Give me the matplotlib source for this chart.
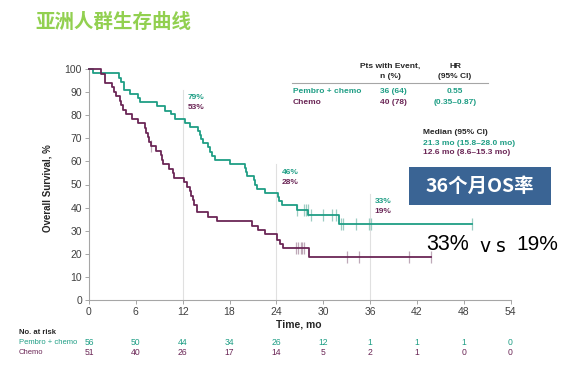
import matplotlib
matplotlib.use("Agg")
import matplotlib.pyplot as plt
import numpy as np

plt.rcParams['font.family'] = ['Liberation Sans', 'Noto Sans CJK SC', 'DejaVu Sans']

# ---------------- data ----------------
title = "亚洲人群生存曲线"
box_text = "36个月OS率"

# Kaplan-Meier step curves (time in months, survival %)
pembro_t = [0, 0.5, 3.8, 4.1, 4.5, 5.3, 6.3, 6.5, 8.7, 9.7, 10.5, 11.0, 12.3, 12.9, 14.0, 14.2,
            14.4, 14.6, 15.3, 15.5, 15.8, 16.2, 18.1, 20.0, 20.1, 20.2, 21.1, 21.3, 21.5, 22.6,
            24.2, 24.4, 24.7, 26.6, 28.1, 32.0, 49.1]
pembro_s = [100, 98.2, 96.4, 94.6, 91.1, 89.3, 87.5, 85.7, 83.9, 82.1, 80.4, 78.6, 76.8, 75.0, 73.2, 71.4,
            69.6, 67.9, 66.1, 64.3, 62.5, 60.7, 58.9, 57.1, 55.4, 53.6, 51.8, 50.0, 48.2, 46.4,
            44.6, 42.9, 41.1, 39.0, 36.6, 32.9, 32.9]

chemo_t = [0, 1.6, 2.05, 2.1, 3.0, 3.2, 3.5, 4.0, 4.1, 4.3, 4.8, 5.5, 6.3, 7.2, 7.35, 7.5, 7.7,
           8.0, 8.6, 9.2, 9.4, 9.5, 10.2, 10.7, 10.9, 12.2, 12.6, 12.9, 13.1, 13.3, 13.5, 13.8,
           15.2, 16.4, 20.9, 21.7, 22.6, 24.1, 24.5, 24.8, 28.2, 43.8]
chemo_s = [100, 98.0, 96.1, 94.1, 92.2, 90.2, 88.2, 86.3, 84.3, 82.4, 80.4, 78.4, 76.5, 74.5, 72.5, 70.6, 68.6,
           66.7, 64.7, 62.7, 60.8, 58.8, 56.9, 54.9, 52.9, 51.0, 49.0, 47.1, 45.1, 43.1, 41.2, 38.2,
           36.1, 34.0, 32.0, 30.2, 28.3, 26.0, 24.3, 22.3, 18.6, 18.6]

pembro_censor = [26.7, 27.6, 27.8, 28.0, 28.5, 30.0, 31.1, 31.7, 32.3, 32.6, 34.2, 35.9, 36.1, 49.1]
chemo_censor = [8.0, 26.5, 26.8, 27.1, 27.3, 27.6, 33.0, 34.6, 41.0, 43.8]

risk_times = [0, 6, 12, 18, 24, 30, 36, 42, 48, 54]
risk_pembro = [56, 50, 44, 34, 26, 12, 1, 1, 1, 0]
risk_chemo = [51, 40, 26, 17, 14, 5, 2, 1, 0, 0]

landmarks = [12, 24, 36]
landmark_pembro = ["79%", "46%", "33%"]
landmark_chemo = ["53%", "28%", "19%"]

GREEN = "#1f9e85"
PURPLE = "#6b2656"
GREEN_C = "#9ccdc2"
PURPLE_C = "#bfa9b8"
TXT = "#262626"

W, H = 577, 365
fig = plt.figure(figsize=(W / 100, H / 100), dpi=100)

def fx(px):
    return px / W

def fy(py):
    return 1 - py / H

ax = fig.add_axes([fx(89), fy(299.7), 421.5 / W, 230.4 / H])
ax.set_xlim(0, 54)
ax.set_ylim(0, 100)

# landmark reference lines
for lm, top in zip(landmarks, [91, 59, 46]):
    ax.plot([lm, lm], [0, top], color="#e0e0e0", lw=0.8, zorder=1)

ax.step(pembro_t, pembro_s, where="post", color=GREEN, lw=1.3, zorder=3, clip_on=False)
ax.step(chemo_t, chemo_s, where="post", color=PURPLE, lw=1.3, zorder=3, clip_on=False)

def level(ts, ss, t):
    idx = np.searchsorted(ts, t, side="right") - 1
    return ss[idx]

ax.plot(pembro_censor, [level(pembro_t, pembro_s, t) for t in pembro_censor], ls="none",
        marker="|", ms=8, mew=0.9, color=GREEN_C, zorder=2)
ax.plot(chemo_censor, [level(chemo_t, chemo_s, t) for t in chemo_censor], ls="none",
        marker="|", ms=8, mew=0.9, color=PURPLE_C, zorder=2)

# landmark labels
lab_pos = [(12.64, 87.7, 83.3), (24.7, 55.3, 51.0), (36.6, 42.8, 38.2)]
for (x, yg, yp), g, p in zip(lab_pos, landmark_pembro, landmark_chemo):
    ax.text(x, yg, g, color=GREEN, fontsize=6, fontweight="bold", ha="left", va="center")
    ax.text(x, yp, p, color=PURPLE, fontsize=6, fontweight="bold", ha="left", va="center")

# axes styling
for s in ["top", "right"]:
    ax.spines[s].set_visible(False)
for s in ["left", "bottom"]:
    ax.spines[s].set_color("#a6a6a6")
    ax.spines[s].set_linewidth(0.8)
ax.set_xticks(risk_times)
ax.set_yticks(np.arange(0, 101, 10))
ax.tick_params(axis="both", length=3, width=0.7, color="#a6a6a6", labelsize=7.5,
               labelcolor="#404040", direction="out")
ax.tick_params(axis="x", pad=2.2)
ax.tick_params(axis="y", pad=2)
ax.set_ylabel("Overall Survival, %", fontsize=7, fontweight="bold", color=TXT)
ax.yaxis.set_label_coords(-0.086, 0.485)
fig.text(fx(299), fy(324.3), "Time, mo", fontsize=7.5, fontweight="bold", color=TXT,
         ha="center", va="center")

# risk table
fig.text(fx(19), fy(332.7), "No. at risk", fontsize=5.5, fontweight="bold", color=TXT, va="center")
fig.text(fx(19), fy(342.6), "Pembro + chemo", fontsize=5.5, color=GREEN, va="center")
fig.text(fx(19), fy(352.9), "Chemo", fontsize=5.5, color=PURPLE, va="center")
for t, a, b in zip(risk_times, risk_pembro, risk_chemo):
    xf = fx(89 + t * 421.5 / 54)
    fig.text(xf, fy(342.6), str(a), fontsize=6.2, color=GREEN, ha="center", va="center")
    fig.text(xf, fy(352.9), str(b), fontsize=6.2, color=PURPLE, ha="center", va="center")

# title
fig.text(fx(35), fy(22), title, fontsize=14, fontweight="bold", color="#92d050",
         family=["Noto Sans CJK SC"], ha="left", va="center")

# HR table
fs = 6
fig.text(fx(390), fy(66.7), "Pts with Event,", fontsize=fs, fontweight="bold", color=TXT, ha="center", va="center")
fig.text(fx(390), fy(76), "n (%)", fontsize=fs, fontweight="bold", color=TXT, ha="center", va="center")
fig.text(fx(455), fy(66.7), "HR", fontsize=fs, fontweight="bold", color=TXT, ha="center", va="center")
fig.text(fx(455), fy(76), "(95% CI)", fontsize=fs, fontweight="bold", color=TXT, ha="center", va="center")
fig.add_artist(plt.Line2D([fx(291.7), fx(488.3)], [fy(83.3), fy(83.3)], color="#a6a6a6", lw=0.8))
fig.text(fx(292.7), fy(91.7), "Pembro + chemo", fontsize=fs, fontweight="bold", color=GREEN, va="center")
fig.text(fx(292.7), fy(102.3), "Chemo", fontsize=fs, fontweight="bold", color=PURPLE, va="center")
fig.text(fx(393), fy(91.7), "36 (64)", fontsize=fs, fontweight="bold", color=GREEN, ha="center", va="center")
fig.text(fx(393), fy(102.3), "40 (78)", fontsize=fs, fontweight="bold", color=PURPLE, ha="center", va="center")
fig.text(fx(455), fy(91.7), "0.55", fontsize=fs, fontweight="bold", color=GREEN, ha="center", va="center")
fig.text(fx(455), fy(102.3), "(0.35–0.87)", fontsize=fs, fontweight="bold", color=GREEN, ha="center", va="center")
fig.text(fx(422.7), fy(132.3), "Median (95% CI)", fontsize=fs, fontweight="bold", color=TXT, va="center")
fig.text(fx(422.7), fy(143.3), "21.3 mo (15.8–28.0 mo)", fontsize=fs, fontweight="bold", color=GREEN, va="center")
fig.text(fx(422.7), fy(152.7), "12.6 mo (8.6–15.3 mo)", fontsize=fs, fontweight="bold", color=PURPLE, va="center")

# blue box
fig.add_artist(plt.Rectangle((fx(409), fy(205)), (550.7 - 409) / W, (205 - 167.3) / H,
                             facecolor="#3a6494", edgecolor="none"))
fig.text(fx(479.8), fy(186.5), box_text, fontsize=14, fontweight="bold", color="white",
         family=["Noto Sans CJK SC"], ha="center", va="center")

# 33% vs 19%
fig.text(fx(426.7), fy(245), "33%", fontsize=15.5, color="black", ha="left", va="center")
fig.text(fx(485), fy(247), "v", fontsize=13.5, color="black", family=["DejaVu Sans"], ha="center", va="center")
fig.text(fx(501), fy(247), "s", fontsize=13.5, color="black", family=["DejaVu Sans"], ha="center", va="center")
fig.text(fx(516.7), fy(245), "19%", fontsize=15, color="black", ha="left", va="center")

fig.savefig("out.png", dpi=100)
